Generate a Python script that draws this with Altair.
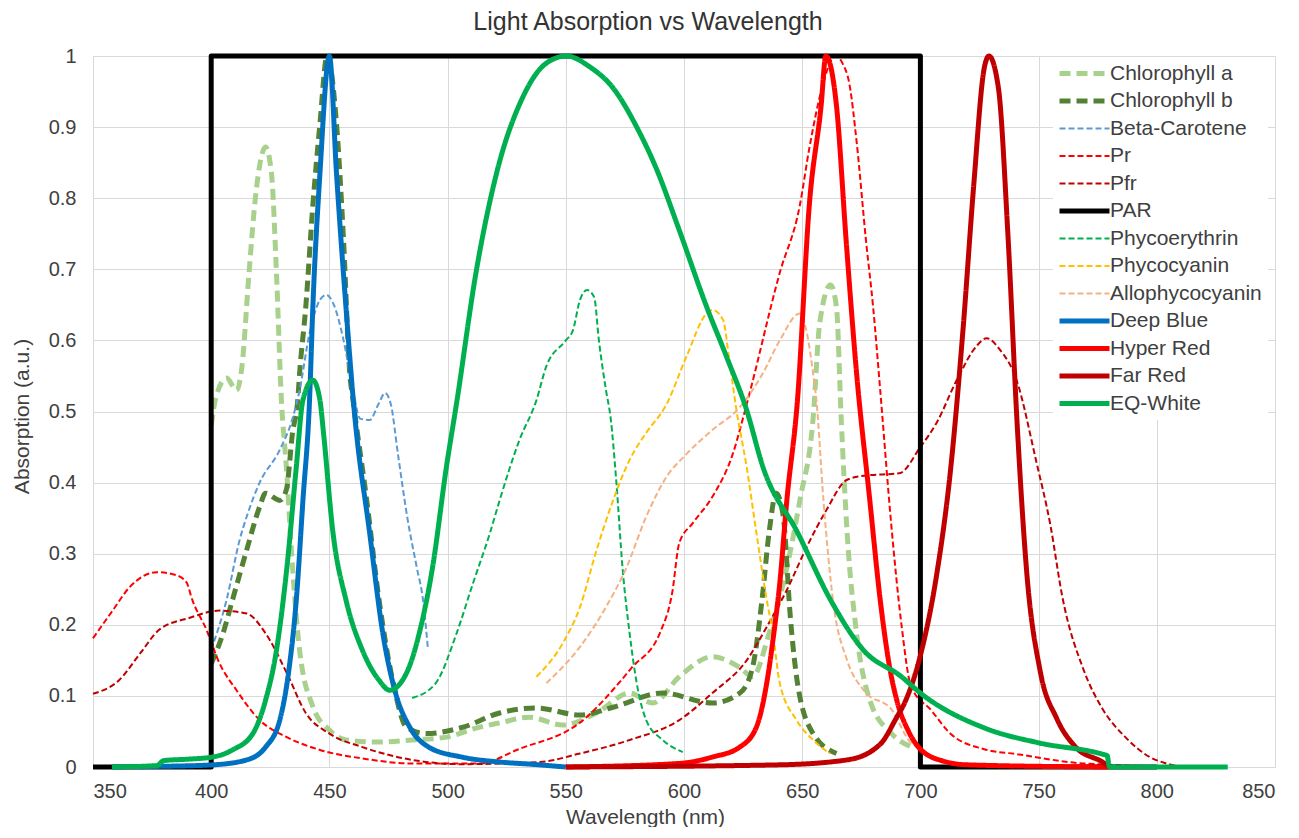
import altair as alt
import pandas as pd

# ---------------- data ----------------
SERIES = ["Chlorophyll a", "Chlorophyll b", "Beta-Carotene", "Pr", "Pfr", "PAR",
          "Phycoerythrin", "Phycocyanin", "Allophycocyanin", "Deep Blue",
          "Hyper Red", "Far Red", "EQ-White"]

CHL_A_NM = [400, 402, 406.5, 410.7, 413, 416, 419, 423, 425.5, 427.6, 429.7, 431.8, 434.4,
            437.4, 443, 450, 457, 471, 485, 499.5, 513.5, 522, 534.6, 548.7, 563, 577,
            586.8, 598, 612, 623.6, 629, 636, 643.5, 649, 654.6, 657.4, 662, 664.5, 666.5,
            669, 673, 678.6, 687.8, 697]
CHL_A_ABS = [0.48, 0.52, 0.547, 0.53, 0.563, 0.695, 0.81, 0.872, 0.835, 0.695, 0.516, 0.422,
             0.28, 0.164, 0.085, 0.052, 0.038, 0.035, 0.038, 0.042, 0.056, 0.062, 0.07, 0.059,
             0.076, 0.104, 0.09, 0.127, 0.155, 0.14, 0.127, 0.188, 0.28, 0.375, 0.49, 0.624,
             0.678, 0.647, 0.49, 0.33, 0.188, 0.094, 0.047, 0.027]

CHL_B_NM = [400, 405, 409, 415, 420.5, 423, 429, 431.8, 434.4, 436.6, 437.4, 440, 443, 446,
            449, 453, 456, 458.6, 460, 465.8, 471, 477, 482.6, 491, 506.5, 522, 537.6, 556,
            570, 591, 612, 623.6, 629, 633, 636, 639, 642, 645, 648, 654.6, 664.5]
CHL_B_ABS = [0.145, 0.188, 0.235, 0.305, 0.366, 0.385, 0.375, 0.39, 0.47, 0.516, 0.554, 0.647,
             0.79, 0.905, 1.0, 0.905, 0.74, 0.554, 0.516, 0.375, 0.235, 0.118, 0.056, 0.047,
             0.056, 0.076, 0.083, 0.073, 0.084, 0.104, 0.09, 0.104, 0.14, 0.235, 0.33, 0.385,
             0.352, 0.21, 0.118, 0.047, 0.019]

BETA_NM = [400, 406.5, 412, 415, 420.5, 429, 434.4, 437.4, 441.6, 446, 448.7, 451.5, 456, 460,
           463, 467, 471, 473.5, 476, 479, 483, 487, 489.6, 491.6]
BETA_ABS = [0.165, 0.235, 0.319, 0.352, 0.4, 0.446, 0.49, 0.53, 0.61, 0.657, 0.664, 0.653, 0.6,
            0.53, 0.49, 0.488, 0.512, 0.526, 0.51, 0.44, 0.35, 0.28, 0.235, 0.169]

PR_NM = [350, 358.3, 365.5, 377, 385, 389.5, 392, 398, 403.5, 410.7, 420.5, 432, 446, 464, 485,
         513.6, 530, 555.8, 578, 590, 595, 598, 603.7, 612, 620.6, 626.5, 640.5, 649, 653, 658,
         664, 667, 670, 673, 677, 680, 683, 687.7, 692, 696, 704.5, 713, 727, 741, 769, 816]
PR_ABS = [0.181, 0.22, 0.253, 0.274, 0.27, 0.26, 0.235, 0.193, 0.146, 0.108, 0.066, 0.042,
          0.024, 0.012, 0.005, 0.005, 0.025, 0.062, 0.14, 0.19, 0.245, 0.315, 0.343, 0.38, 0.44,
          0.51, 0.695, 0.79, 0.87, 0.95, 1.0, 0.99, 0.96, 0.88, 0.74, 0.647, 0.53, 0.34, 0.2,
          0.114, 0.08, 0.046, 0.025, 0.018, 0.005, 0.0]

PFR_NM = [350, 361, 370, 378, 391, 403.5, 415, 423, 432, 440, 450, 464, 485, 505, 539, 556,
          577, 598, 612, 626.5, 635, 643.5, 652, 660, 669, 677, 691, 700, 707, 715.5, 724, 728,
          733.6, 740.6, 749, 755, 760, 769, 777, 787, 797, 804, 810]
PFR_ABS = [0.103, 0.122, 0.16, 0.193, 0.21, 0.22, 0.216, 0.188, 0.132, 0.076, 0.047, 0.028,
           0.01, 0.004, 0.007, 0.019, 0.038, 0.066, 0.104, 0.15, 0.197, 0.249, 0.31, 0.36, 0.404,
           0.41, 0.413, 0.45, 0.485, 0.545, 0.593, 0.603, 0.587, 0.545, 0.43, 0.34, 0.24, 0.137,
           0.082, 0.041, 0.014, 0.005, 0.0]

PAR_NM = [350, 400, 400, 700, 700, 800]
PAR_ABS = [0, 0, 1, 1, 0, 0]

PHYCOERY_NM = [485, 495, 503.8, 510.7, 518, 522, 530.4, 537.6, 541.7, 550, 553, 556, 559, 562,
               564, 567, 569, 571.4, 574, 577, 580, 584, 591, 599.5]
PHYCOERY_ABS = [0.097, 0.118, 0.188, 0.258, 0.33, 0.375, 0.46, 0.516, 0.563, 0.6, 0.614, 0.657,
                0.671, 0.661, 0.6, 0.53, 0.49, 0.4, 0.28, 0.188, 0.118, 0.066, 0.038, 0.021]

PHYCOCY_NM = [537.6, 548.7, 556, 563, 570, 577, 584, 592.6, 601, 609.6, 612, 616.5, 619, 622,
              626.5, 630.6, 635, 637.6, 640.5, 647.6, 654.6, 661.8]
PHYCOCY_ABS = [0.127, 0.174, 0.225, 0.305, 0.375, 0.432, 0.47, 0.51, 0.577, 0.638, 0.643, 0.629,
               0.577, 0.506, 0.422, 0.33, 0.235, 0.188, 0.118, 0.066, 0.038, 0.019]

ALLO_NM = [541.8, 556, 567, 575.6, 584, 592.6, 601, 612, 623.6, 633.4, 640.5, 649, 652, 654.6,
           656, 659, 663, 669, 676, 688, 696, 698]
ALLO_ABS = [0.118, 0.169, 0.225, 0.28, 0.352, 0.408, 0.44, 0.474, 0.506, 0.554, 0.6, 0.638, 0.61,
            0.554, 0.516, 0.375, 0.235, 0.15, 0.108, 0.08, 0.034, 0.03]

BLUE_NM = [358, 380, 400.6, 415, 423, 429, 433, 436, 438.8, 441.6, 443, 446, 450, 453, 457,
           460.6, 467, 472.6, 478, 484, 492, 506, 522, 535, 550]
BLUE_ABS = [0.0, 0.001, 0.003, 0.01, 0.028, 0.066, 0.14, 0.235, 0.375, 0.516, 0.647, 0.835, 1.0,
            0.835, 0.647, 0.498, 0.33, 0.188, 0.104, 0.056, 0.028, 0.014, 0.007, 0.004, 0.0]

HYPER_NM = [550, 598, 612, 623.6, 630.6, 635, 638, 640.5, 643.5, 648, 653, 658, 660, 664.5,
            668.6, 673, 678.6, 683, 687, 690, 695, 700, 710, 720, 780]
HYPER_ABS = [0.0, 0.005, 0.014, 0.028, 0.056, 0.118, 0.188, 0.258, 0.375, 0.516, 0.79, 0.93,
             1.0, 0.93, 0.74, 0.554, 0.375, 0.235, 0.14, 0.094, 0.05, 0.025, 0.008, 0.003, 0.0]

FAR_NM = [550, 640, 669, 683, 690, 693, 700, 707, 712.5, 718, 722.6, 727, 729, 733, 737, 741,
          745, 750.6, 757.7, 766, 777, 780]
FAR_ABS = [0.0, 0.003, 0.01, 0.032, 0.07, 0.088, 0.157, 0.273, 0.41, 0.614, 0.82, 0.983, 1.0,
           0.955, 0.75, 0.478, 0.273, 0.136, 0.068, 0.027, 0.007, 0.0]

WHITE_NM = [358, 377, 380, 390, 400.6, 409, 417.6, 423, 427.6, 432, 436, 438.8, 443, 446, 447.5,
            451.5, 457, 464, 471, 475.5, 482.6, 488, 493.6, 499.5, 504, 512, 520.7, 531.8, 541.8,
            550.3, 560, 570, 580, 588.5, 598, 609.6, 618, 626.5, 633.4, 648, 662, 676, 692, 700,
            727, 750, 777, 779, 780, 830]
WHITE_ABS = [0.0, 0.002, 0.009, 0.011, 0.014, 0.024, 0.047, 0.094, 0.164, 0.28, 0.422, 0.516,
             0.544, 0.516, 0.47, 0.33, 0.235, 0.164, 0.122, 0.108, 0.132, 0.188, 0.28, 0.422,
             0.516, 0.695, 0.835, 0.942, 0.99, 1.0, 0.985, 0.955, 0.9, 0.84, 0.755, 0.647,
             0.577, 0.502, 0.422, 0.33, 0.235, 0.164, 0.127, 0.104, 0.055, 0.034, 0.018, 0.016,
             0.0, 0.0]

SERIES_DATA = {
    "Chlorophyll a": (CHL_A_NM, CHL_A_ABS),
    "Chlorophyll b": (CHL_B_NM, CHL_B_ABS),
    "Beta-Carotene": (BETA_NM, BETA_ABS),
    "Pr": (PR_NM, PR_ABS),
    "Pfr": (PFR_NM, PFR_ABS),
    "PAR": (PAR_NM, PAR_ABS),
    "Phycoerythrin": (PHYCOERY_NM, PHYCOERY_ABS),
    "Phycocyanin": (PHYCOCY_NM, PHYCOCY_ABS),
    "Allophycocyanin": (ALLO_NM, ALLO_ABS),
    "Deep Blue": (BLUE_NM, BLUE_ABS),
    "Hyper Red": (HYPER_NM, HYPER_ABS),
    "Far Red": (FAR_NM, FAR_ABS),
    "EQ-White": (WHITE_NM, WHITE_ABS),
}

X_TICKS = list(range(350, 851, 50))
Y_TICKS = [0, 0.1, 0.2, 0.3, 0.4, 0.5, 0.6, 0.7, 0.8, 0.9, 1]

# ---------------- styles ----------------
COLORS = ["#A9D18E", "#548235", "#5B9BD5", "#FF0000", "#C00000", "#000000",
          "#00B050", "#FFC000", "#F4B183", "#0070C0", "#FF0000", "#C00000", "#00B050"]
THICK_DASH = [11, 6]
THIN_DASH = [6, 3]
SOLID = [1, 0]
DASHES = [THICK_DASH, THICK_DASH, THIN_DASH, THIN_DASH, THIN_DASH, SOLID,
          THIN_DASH, THIN_DASH, THIN_DASH, SOLID, SOLID, SOLID, SOLID]
WIDTHS = [5, 5, 2, 2, 2, 5, 2, 2, 2, 5, 5, 5, 5]

FONT = "Liberation Sans"
TEXT = "#404040"

rows = []
for name in SERIES:
    xs, ys = SERIES_DATA[name]
    for i, (x, y) in enumerate(zip(xs, ys)):
        rows.append({"series": name, "nm": x, "abs": y, "idx": i})
df = pd.DataFrame(rows)

legend = alt.Legend(
    title=None, orient="none", legendX=960, legendY=1,
    symbolType="M-5,0L5,0", symbolSize=100, symbolOffset=15, labelOffset=15,
    rowPadding=5.5, labelFontSize=21, labelFont=FONT, labelColor=TEXT,
    fillColor="white", padding=6, labelLimit=400,
)

x_enc = alt.X("nm:Q", scale=alt.Scale(domain=[350, 850], nice=False, zero=False),
              axis=alt.Axis(values=X_TICKS, format="d", title="Wavelength (nm)",
                            labelPadding=14, titleX=552, titleY=56,
                            titleBaseline="alphabetic", titleAlign="center"))
y_enc = alt.Y("abs:Q", scale=alt.Scale(domain=[0, 1], nice=False),
              axis=alt.Axis(values=Y_TICKS, format="~g", title="Absorption (a.u.)",
                            labelPadding=17, titleX=-65, titleY=360, titleAngle=270,
                            titleBaseline="alphabetic", titleAlign="center"))
enc = dict(
    x=x_enc,
    y=y_enc,
    color=alt.Color("series:N", scale=alt.Scale(domain=SERIES, range=COLORS), legend=legend),
    strokeDash=alt.StrokeDash("series:N", scale=alt.Scale(domain=SERIES, range=DASHES),
                              legend=legend),
    strokeWidth=alt.StrokeWidth("series:N",
                                scale=alt.Scale(type="ordinal", domain=SERIES, range=WIDTHS),
                                legend=legend),
    order=alt.Order("idx:Q"),
)

base = alt.Chart(df)
layers = []
for name in SERIES:
    interp = "linear" if name == "PAR" else "monotone"
    layers.append(
        base.transform_filter(alt.datum.series == name)
        .mark_line(interpolate=interp, strokeJoin="round")
        .encode(**enc)
    )

chart = alt.layer(*layers).properties(
    width=1182, height=711,
    autosize=alt.AutoSizeParams(type="none"),
    padding={"left": 85, "top": 48, "right": 16, "bottom": 60},
    title=alt.Title("Light Absorption vs Wavelength", fontSize=25, font=FONT,
                    fontWeight="normal", color="#333333", anchor="middle",
                    frame="group", dx=-36, dy=9, offset=0, baseline="alphabetic"),
).configure_view(stroke=None).configure_axis(
    gridColor="#D9D9D9", domainColor="#D9D9D9", ticks=False, tickSize=0,
    labelFont=FONT, titleFont=FONT, labelColor=TEXT, titleColor=TEXT,
    labelFontSize=20, titleFontSize=21, titleFontWeight="normal",
)

chart.save("out.html", embed_options={"renderer": "svg", "actions": False})
